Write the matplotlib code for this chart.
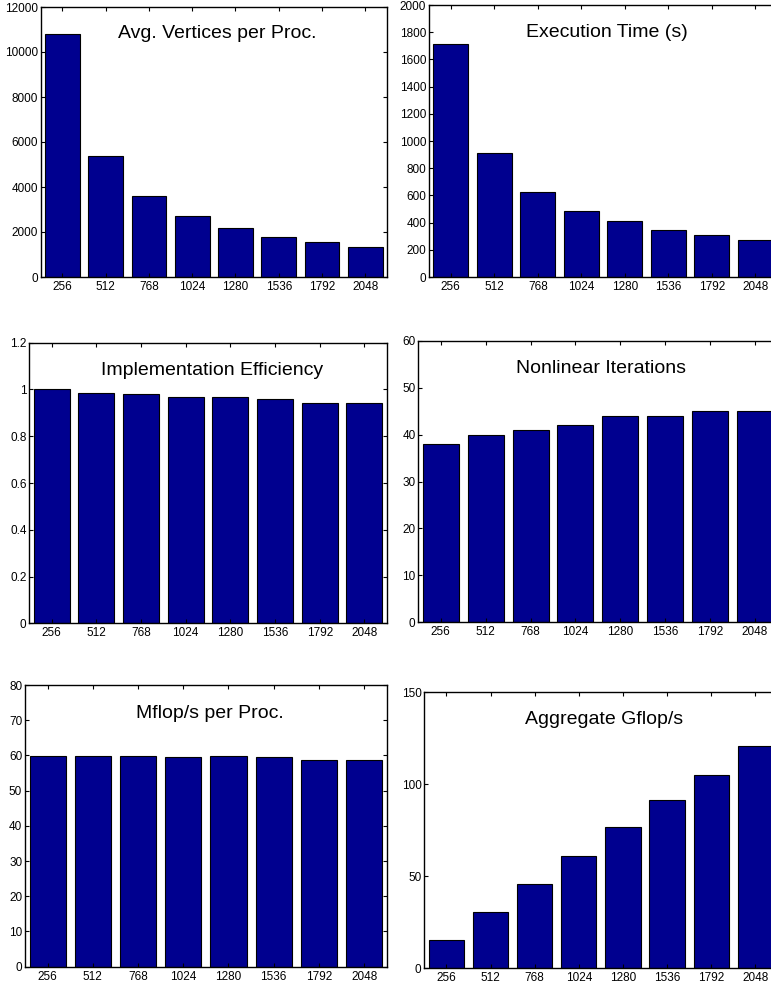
import matplotlib
matplotlib.use("Agg")
import matplotlib.pyplot as plt
import numpy as np

plt.rcParams['font.family'] = ['Liberation Sans', 'DejaVu Sans']

procs = ["256", "512", "768", "1024", "1280", "1536", "1792", "2048"]

avg_vertices = [10800, 5400, 3600, 2700, 2160, 1800, 1543, 1350]
exec_time = [1710, 913, 624, 487, 409, 343, 306, 269]
impl_eff = [1.0, 0.985, 0.979, 0.968, 0.966, 0.961, 0.941, 0.942]
nonlin_iters = [38, 40, 41, 42, 44, 44, 45, 45]
mflops_per_proc = [59.9, 59.8, 59.9, 59.5, 59.7, 59.5, 58.6, 58.8]
agg_gflops = [15.2, 30.4, 46.0, 60.9, 76.6, 91.5, 105.1, 120.7]

titles = ["Avg. Vertices per Proc.", "Execution Time (s)", "Implementation Efficiency",
          "Nonlinear Iterations", "Mflop/s per Proc.", "Aggregate Gflop/s"]
series = [avg_vertices, exec_time, impl_eff, nonlin_iters, mflops_per_proc, agg_gflops]
yticks = [
    list(range(0, 12001, 2000)),
    list(range(0, 2001, 200)),
    [0, 0.2, 0.4, 0.6, 0.8, 1.0, 1.2],
    list(range(0, 61, 10)),
    list(range(0, 81, 10)),
    [0, 50, 100, 150],
]
yticklabels = [
    None, None,
    ["0", "0.2", "0.4", "0.6", "0.8", "1", "1.2"],
    None, None, None,
]

W, H = 771, 984
# pixel boxes: left, top, right, bottom
boxes = [
    (40.7, 7, 387, 277),
    (429, 5, 777, 277),
    (29.3, 342.7, 386.7, 623.3),
    (418.3, 340.7, 777.5, 622.3),
    (25, 685, 386.7, 966.7),
    (424.3, 692.3, 777.5, 968.3),
]

fig = plt.figure(figsize=(W / 100, H / 100), dpi=100)
bar_color = (0, 0, 0.5625)
x = np.arange(1, len(procs) + 1)

for i in range(6):
    l, t, r, b = boxes[i]
    ax = fig.add_axes([l / W, 1 - b / H, (r - l) / W, (b - t) / H])
    ax.bar(x, series[i], width=0.8, color=bar_color, edgecolor='black', linewidth=0.8)
    ax.set_xlim(0.5, len(procs) + 0.5)
    ax.set_ylim(yticks[i][0], yticks[i][-1])
    ax.set_xticks(x)
    ax.set_xticklabels(procs)
    ax.set_yticks(yticks[i])
    if yticklabels[i] is not None:
        ax.set_yticklabels(yticklabels[i])
    ax.tick_params(direction='in', length=3, width=0.8, top=True, right=True,
                   labelsize=8.5, pad=3)
    ax.tick_params(axis='y', pad=2)
    for s in ax.spines.values():
        s.set_linewidth(1.0)
        s.set_color('black')
    ax.text(0.51, 0.9, titles[i], transform=ax.transAxes, ha='center', va='center',
            fontsize=14)

fig.savefig("out.png", dpi=100)
